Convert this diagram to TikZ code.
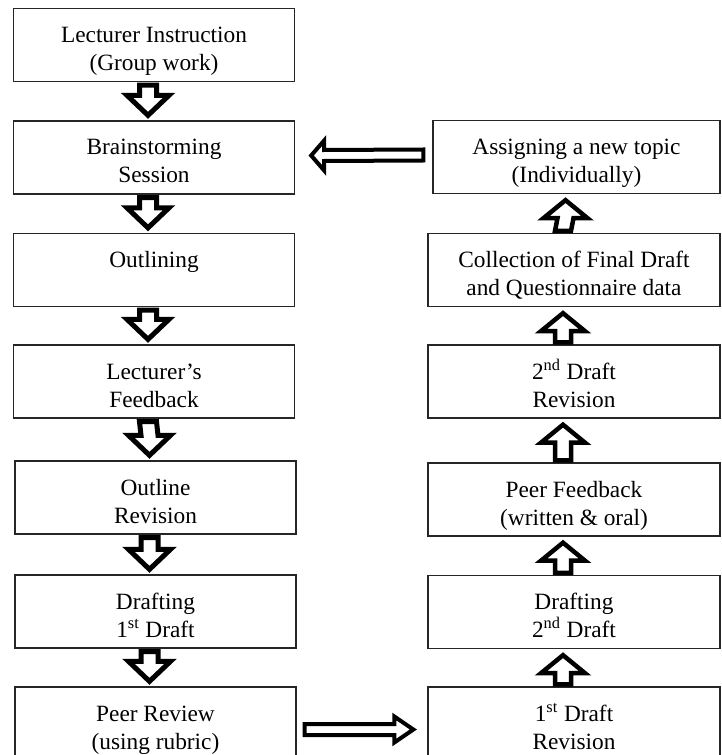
\documentclass[tikz,border=0pt]{standalone}
\usepackage{fontspec}
\setmainfont{Liberation Serif}
\usetikzlibrary{calc}
\usetikzlibrary{positioning}
\newcommand{\boxtxt}[1]{\parbox[c][43.8pt][t]{165pt}{\centering\rule{0pt}{20.4pt}#1}}
\tikzstyle{box}=[draw=black!85, line width=0.8pt, minimum height=43.8pt, inner sep=0pt, font=\fontsize{14}{16.8}\selectfont]
\tikzstyle{leftbox}=[box, minimum width=168.6pt]
\tikzstyle{rightbox}=[box, minimum width=175.2pt]
\tikzstyle{downarrow}=[draw, line width=3pt, fill=white, miter limit=10]
\tikzstyle{uparrow}=[draw, line width=2.7pt, fill=white, miter limit=10]
\tikzstyle{sidearrow}=[draw, line width=2.4pt, fill=white, miter limit=10]

\begin{document}
\begin{tikzpicture}[x=0.6pt, y=-0.6pt]
    \useasboundingbox (0,0) rectangle (721,755);
    \clip (0,0) rectangle (721,755);

    % Left column: the group work steps
    \foreach \pos/\name/\txt in {{(154,45)/lect/{Lecturer Instruction\\(Group work)}}, {(154,157.5)/brain/{Brainstorming\\Session}}, {(154,270)/outl/{Outlining}}, {(154,381.5)/feed/{Lecturer’s\\Feedback}}, {(155.5,497.5)/orev/{Outline\\Revision}}, {(155.5,611.5)/draft1/{Drafting\\1\textsuperscript{st} Draft}}, {(155.5,723.5)/review/{Peer Review\\(using rubric)}}}
            \node[leftbox] (\name) at \pos {\boxtxt{\txt}};

    % Right column: the individual steps
    \node[rightbox, minimum width=172.2pt] (assign) at (576.5,157) {\boxtxt{Assigning a new topic\\(Individually)}};
    \foreach \pos/\name/\txt in {{(574,270)/collect/{Collection of Final Draft\\and Questionnaire data}}, {(574,381.5)/rev2/{2\textsuperscript{nd} Draft\\Revision}}, {(574,499.5)/peerfb/{Peer Feedback\\(written \& oral)}}, {(574,612)/draft2/{Drafting\\2\textsuperscript{nd} Draft}}, {(574,723.5)/rev1/{1\textsuperscript{st} Draft\\Revision}}}
            \node[rightbox] (\name) at \pos {\boxtxt{\txt}};

    % Block arrows down the left column
  \foreach \source/ \dest in {lect/brain, brain/outl, outl/feed, feed/orev, orev/draft1, draft1/review}
        \draw[downarrow] ($(\source.south)+(-14.5,3)$) -- ($(\dest.north)+(-14.5,-25)$) -- ($(\dest.north)+(-27,-25)$) -- ($(\dest.north)+(-6,-5)$) -- ($(\dest.north)+(15,-25)$) -- ($(\dest.north)+(2.5,-25)$) -- ($(\source.south)+(2.5,3)$) -- cycle;

    % Block arrows up the right column
  \foreach \source/ \dest in {rev1/draft2, draft2/peerfb, peerfb/rev2, rev2/collect, collect/assign}
        \draw[uparrow] ($(\source.north)+(-19,-2)$) -- ($(\dest.south)+(-19,24)$) -- ($(\dest.south)+(-33,24)$) -- ($(\dest.south)+(-11,6)$) -- ($(\dest.south)+(11,24)$) -- ($(\dest.south)+(-3,24)$) -- ($(\source.north)+(-3,-2)$) -- cycle;

\draw[sidearrow] ($(assign.west)+(-9,-7.5)$) -- ($(brain.east)+(29,-7.5)$) -- ($(brain.east)+(29,-17)$) -- ($(brain.east)+(16,-2)$) -- ($(brain.east)+(29,13)$) -- ($(brain.east)+(29,3.5)$) -- ($(assign.west)+(-9,3.5)$) -- cycle;
\draw[sidearrow] ($(review.east)+(8,0.5)$) -- ($(rev1.west)+(-33,0.5)$) -- ($(rev1.west)+(-33,-7)$) -- ($(rev1.west)+(-14,6)$) -- ($(rev1.west)+(-33,19)$) -- ($(rev1.west)+(-33,11.5)$) -- ($(review.east)+(8,11.5)$) -- cycle;

   \end{tikzpicture}
\end{document}
